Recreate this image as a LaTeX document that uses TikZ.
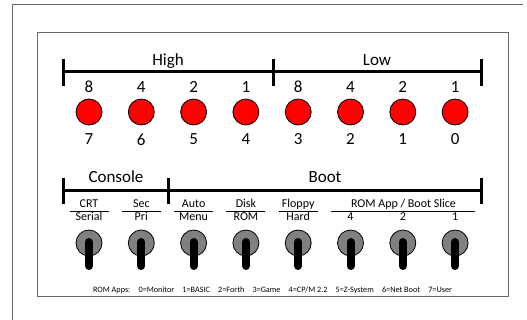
\documentclass[tikz,border=0pt]{standalone}
\usepackage{fontspec}
\setmainfont{Carlito}
\usetikzlibrary{positioning}
\definecolor{frmgray}{RGB}{105,105,105}
\definecolor{swgray}{RGB}{128,128,128}
\definecolor{ledred}{RGB}{255,0,0}
\tikzset{
  led/.style={circle, draw=black, fill=ledred, minimum size=26pt,
    inner sep=0pt, line width=0.8pt},
  toggle/.style={circle, draw=black, fill=swgray, minimum size=26pt,
    inner sep=0pt, line width=0.8pt},
  lever/.style={line width=8pt, line cap=round, color=black},
  bracket/.style={line width=3pt, color=black},
  grplabel/.style={font=\fontsize{17}{17}\selectfont, inner sep=0pt, anchor=base},
  bitlabel/.style={font=\fontsize{17}{17}\selectfont, inner sep=1pt},
  swlabel/.style={font=\fontsize{12}{12}\selectfont, inner sep=0pt, anchor=base},
  uline/.style={line width=0.8pt, color=black}
}

\begin{document}
\begin{tikzpicture}[x=1pt, y=-1pt]
  \useasboundingbox (0,0) rectangle (527,320);

  % Frames
  \draw[frmgray, line width=1pt] (12,320) -- (12,5) -- (523,5);
  \draw[frmgray, line width=1pt] (37,33) rectangle (508,296);

  % High / Low bracket
  \draw[bracket] (63,72) -- (481,72);
  \draw[bracket] (63,59) -- (63,86);
  \draw[bracket] (273,59) -- (273,86);
  \draw[bracket] (481,59) -- (481,86);
  \node[grplabel] (high) at (168,66) {High};
  \node[grplabel] (low) at (377,66) {Low};

  % LEDs
  \foreach \i/\t/\b in {0/8/7, 1/4/6, 2/2/5, 3/1/4, 4/8/3, 5/4/2, 6/2/1, 7/1/0} {
    \node[led] (led\b) at ({89+52.3*\i},112) {};
    \node[bitlabel, above=5pt of led\b] (wt\b) {\t};
    \node[bitlabel, below=7pt of led\b] (bit\b) {\b};
  }

  % Console / Boot bracket
  \draw[bracket] (63,191) -- (481,191);
  \draw[bracket] (63,178) -- (63,204);
  \draw[bracket] (168,178) -- (168,204);
  \draw[bracket] (481,178) -- (481,204);
  \node[grplabel] (console) at (116,183) {Console};
  \node[grplabel] (boot) at (325,183) {Boot};

  % Toggle switches
  \foreach \i/\t/\b in {0/CRT/Serial, 1/Sec/Pri, 2/Auto/Menu, 3/Disk/ROM,
      4/Floppy/Hard, 5//4, 6//2, 7//1} {
    \node[toggle] (sw\i) at ({89+52.3*\i},243) {};
    \draw[lever] ({89+52.3*\i},242) -- ({89+52.3*\i},266);
    \node[swlabel] (swtop\i) at ({89+52.3*\i},207.5) {\t};
    \node[swlabel] (swbot\i) at ({89+52.3*\i},221) {\b};
  }
  \foreach \i in {0,...,4}
    \draw[uline] ({69.5+52.3*\i},211) -- ({108.5+52.3*\i},211);
  \draw[uline] (331,211) -- (475,211);
  \node[swlabel] (romapp) at (403.5,207.5) {ROM App / Boot Slice};

  % Footnote
  \node[font=\fontsize{8.2}{8.2}\selectfont, inner sep=0pt, anchor=base] (apps)
    at (272.5,292.5) {ROM Apps:\hspace{1em}0=Monitor\hspace{1em}1=BASIC\hspace{1em}2=Forth\hspace{1em}3=Game\hspace{1em}4=CP/M 2.2\hspace{1em}5=Z-System\hspace{1em}6=Net Boot\hspace{1em}7=User};
\end{tikzpicture}
\end{document}
